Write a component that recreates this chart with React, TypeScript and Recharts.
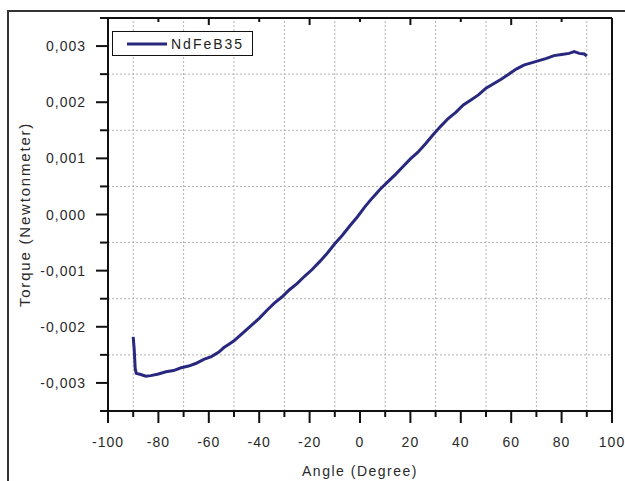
import React from "react";
import {
  LineChart, Line, XAxis, YAxis, ReferenceLine, Legend, Label,
} from "recharts";

const angles = [
  -90, -89.6, -89.2, -88.8, -87, -85, -83, -80, -77, -74, -71, -68, -65, -62,
  -59, -56, -54, -52, -50, -48, -46, -44, -42, -40, -37, -34, -31, -28, -25,
  -22, -19, -16, -13, -10, -7, -4, -1, 2, 5, 8, 11, 14, 17, 20, 23, 26, 29,
  32, 35, 38, 41, 44, 47, 50, 53, 56, 59, 62, 65, 68, 71, 74, 77, 80, 83, 85,
  87, 89, 90,
];
const torque = [
  -0.00218, -0.0024, -0.00275, -0.00283, -0.00285, -0.00288, -0.00287,
  -0.00284, -0.0028, -0.00278, -0.00273, -0.0027, -0.00265, -0.00258,
  -0.00253, -0.00245, -0.00237, -0.00231, -0.00225, -0.00217, -0.00209,
  -0.00201, -0.00193, -0.00185, -0.00171, -0.00158, -0.00147, -0.00134,
  -0.00123, -0.0011, -0.00098, -0.00084, -0.00069, -0.00052, -0.00037,
  -0.0002, -0.00004, 0.00014, 0.0003, 0.00045, 0.00058, 0.00071, 0.00085,
  0.00099, 0.00111, 0.00126, 0.00142, 0.00157, 0.00171, 0.00182, 0.00195,
  0.00204, 0.00213, 0.00225, 0.00233, 0.00241, 0.0025, 0.00259, 0.00266,
  0.0027, 0.00274, 0.00278, 0.00283, 0.00285, 0.00287, 0.0029, 0.00287,
  0.00286, 0.00282,
];

const xTicks = [-100, -90, -80, -70, -60, -50, -40, -30, -20, -10, 0, 10, 20, 30, 40, 50, 60, 70, 80, 90, 100];
const topTicks = [-100, -80, -60, -40, -20, 0, 20, 40, 60, 80, 100];
const yTicks = [
  -0.0035, -0.003, -0.0025, -0.002, -0.0015, -0.001, -0.0005, 0, 0.0005,
  0.001, 0.0015, 0.002, 0.0025, 0.003, 0.0035,
];
const rightTicks = [0, 1, 2, 3, 4, 5, 6, 7, 8, 9, 10];
const gridX = [-90, -70, -50, -30, -10, 10, 30, 50, 70, 90];
const gridY = [-0.0025, -0.0015, -0.0005, 0.0005, 0.0015, 0.0025];

const data = angles.map((a, i) => ({ angle: a, torque: torque[i] }));

const FONT = "'Liberation Sans', Arial, sans-serif";
const LINE = "#28287f";
const INK = "#111";

const fmt = (v: number) => v.toFixed(3).replace(".", ",");

function LeftTick({ x, y, payload }: any) {
  const v = payload.value;
  const major = Math.round(v * 2000) % 2 === 0;
  return (
    <g>
      <line x1={x} y1={y} x2={x - (major ? 12 : 8)} y2={y} stroke={INK} strokeWidth={2} />
      {major && (
        <text x={x - 22} y={y + 5} textAnchor="end" fontSize={14} letterSpacing={1}
          fontFamily={FONT} fill="#2a2a2a">
          {fmt(v)}
        </text>
      )}
    </g>
  );
}

function BottomTick({ x, y, payload }: any) {
  const v = payload.value;
  const major = v % 20 === 0;
  return (
    <g>
      <line x1={x} y1={y} x2={x} y2={y + (major ? 12 : 6)} stroke={INK} strokeWidth={2} />
      {major && (
        <text x={x} y={y + 36} textAnchor="middle" fontSize={14} letterSpacing={1}
          fontFamily={FONT} fill="#2a2a2a">
          {v}
        </text>
      )}
    </g>
  );
}

function TopTick({ x, y, payload }: any) {
  const major = (payload.value + 100) % 40 === 0;
  return <line x1={x} y1={y} x2={x} y2={y + (major ? 7 : 4)} stroke={INK} strokeWidth={2} />;
}

function RightTick({ x, y }: any) {
  return <line x1={x} y1={y} x2={x - 6} y2={y} stroke={INK} strokeWidth={2} />;
}

function LegendBox() {
  return (
    <div style={{
      width: 141, height: 25, boxSizing: "border-box", border: `1.5px solid ${INK}`,
      display: "flex", alignItems: "center", background: "#fff",
    }}>
      <svg width={56} height={6}>
        <line x1={14} y1={3} x2={54} y2={3} stroke={LINE} strokeWidth={3} />
      </svg>
      <span style={{ fontFamily: FONT, fontSize: 14, letterSpacing: 2, color: "#222", marginLeft: 2 }}>
        NdFeB35
      </span>
    </div>
  );
}

export default function App() {
  return (
    <div style={{ position: "fixed", left: 0, top: 0, width: 625, height: 481, background: "#fff", overflow: "hidden" }}>
      <div style={{
        position: "absolute", left: 7, top: 10, width: 700, height: 600,
        borderLeft: "2px solid #333", borderTop: "2px solid #333",
      }} />
      <div style={{ position: "absolute", left: 0, top: 0 }}>
        <LineChart width={625} height={481} data={data}
          margin={{ top: 0, right: 0, bottom: 0, left: 0 }}>
          <XAxis xAxisId="bottom" dataKey="angle" type="number" domain={[-100, 100]}
            ticks={xTicks} interval={0} tickSize={0} tickMargin={0} tick={<BottomTick />}
            height={70} axisLine={{ stroke: INK, strokeWidth: 2 }} tickLine={false}>
            <Label content={({ viewBox }: any) => (
              <text x={viewBox.x + viewBox.width / 2} y={viewBox.y + 65} textAnchor="middle"
                fontSize={14} letterSpacing={1.5} fontFamily={FONT} fill="#2a2a2a">
                Angle (Degree)
              </text>
            )} />
          </XAxis>
          <XAxis xAxisId="top" orientation="top" dataKey="angle" type="number" domain={[-100, 100]}
            ticks={topTicks} interval={0} tickSize={0} tickMargin={0} tick={<TopTick />}
            height={18} axisLine={{ stroke: INK, strokeWidth: 2 }} tickLine={false} />
          <YAxis yAxisId="left" type="number" domain={[-0.0035, 0.0035]} ticks={yTicks}
            interval={0} tickSize={0} tickMargin={0} tick={<LeftTick />} width={108}
            axisLine={{ stroke: INK, strokeWidth: 2 }} tickLine={false}>
            <Label content={({ viewBox }: any) => {
              const cx = viewBox.x + 24;
              const cy = viewBox.y + viewBox.height / 2;
              return (
                <text x={cx} y={cy} transform={`rotate(-90, ${cx}, ${cy})`} textAnchor="middle"
                  dominantBaseline="central" fontSize={15} letterSpacing={1.8}
                  fontFamily={FONT} fill="#2a2a2a">
                  Torque (Newtonmeter)
                </text>
              );
            }} />
          </YAxis>
          <YAxis yAxisId="right" orientation="right" type="number" domain={[0, 10]}
            ticks={rightTicks} interval={0} tickSize={0} tickMargin={0} tick={<RightTick />}
            width={13} axisLine={{ stroke: INK, strokeWidth: 2 }} tickLine={false} />
          {gridX.map((v) => (
            <ReferenceLine key={`gx${v}`} x={v} xAxisId="bottom" yAxisId="left"
              stroke="#b4b4b4" strokeDasharray="2 2" strokeWidth={1} />
          ))}
          {gridY.map((v) => (
            <ReferenceLine key={`gy${v}`} y={v} xAxisId="bottom" yAxisId="left"
              stroke="#b4b4b4" strokeDasharray="2 2" strokeWidth={1} />
          ))}
          <Legend layout="horizontal" verticalAlign="middle" align="center"
            content={<LegendBox />}
            wrapperStyle={{ left: 112, top: 31, width: 141, height: 25 }} />
          <Line xAxisId="bottom" yAxisId="left" type="linear" dataKey="torque" name="NdFeB35"
            stroke={LINE} strokeWidth={3} dot={false} isAnimationActive={false} />
        </LineChart>
      </div>
    </div>
  );
}
